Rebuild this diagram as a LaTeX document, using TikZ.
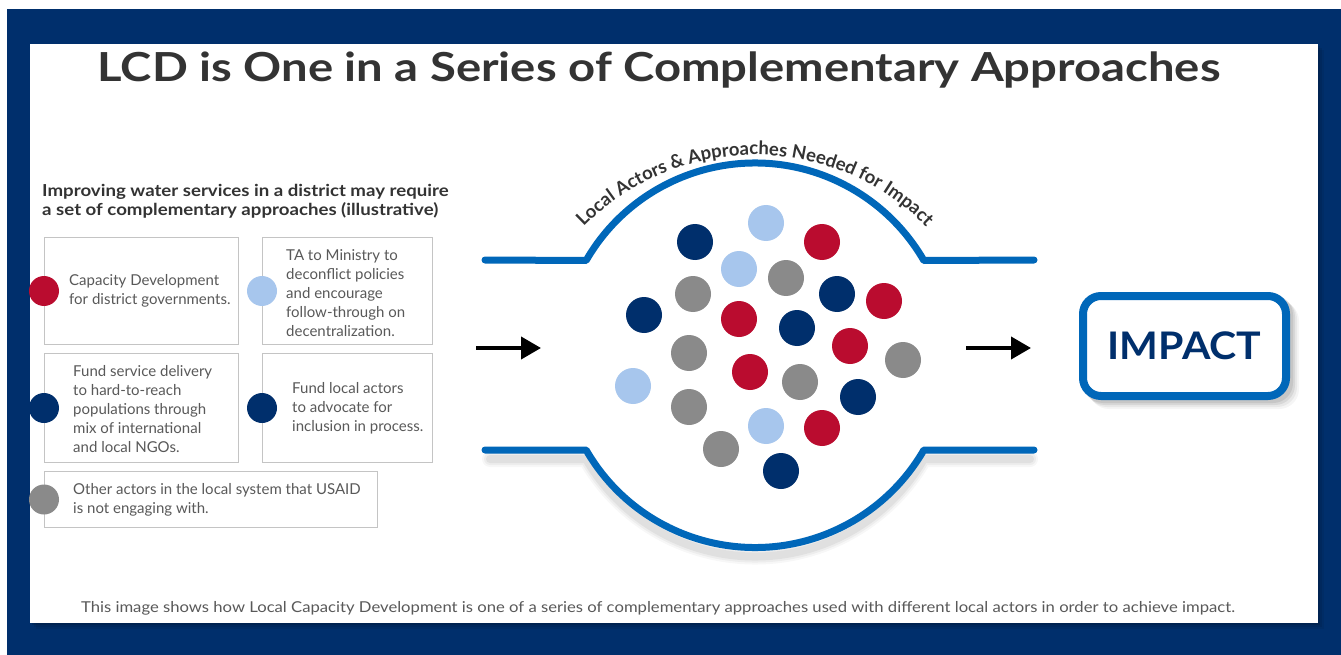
\documentclass[tikz,border=0pt]{standalone}
\usepackage{fontspec}
\setmainfont{Lato}
\usetikzlibrary{arrows.meta,decorations.text}
\definecolor{navy}{HTML}{002F6C}
\definecolor{usred}{HTML}{BA0C2F}
\definecolor{ltblue}{HTML}{A7C6ED}
\definecolor{dotgrey}{HTML}{8A8A8A}
\definecolor{lineblue}{HTML}{0067B9}
\definecolor{titlegrey}{HTML}{333333}
\definecolor{bodygrey}{HTML}{595959}
\definecolor{boxgrey}{HTML}{C4C4C4}
\begin{document}
\begin{tikzpicture}[x=1pt,y=1pt,
  dot/.style={circle,inner sep=0pt,minimum size=36pt},
  legdot/.style={circle,inner sep=0pt,minimum size=30pt},
  legbox/.style={draw=boxgrey,line width=1pt,inner sep=0pt,anchor=north west},
  bodytext/.style={font=\fontsize{15}{19}\selectfont,text=bodygrey,align=left,inner sep=0pt,anchor=west},
  subtext/.style={font=\fontsize{16.5}{18}\selectfont\bfseries,text=titlegrey,inner sep=0pt,anchor=base west},
  pipe/.style={draw=lineblue,line width=7pt,line cap=round,line join=round},
  arr/.style={line width=4pt,-{Triangle[length=20pt,width=22pt]}},
]
\useasboundingbox (0,0) rectangle (1341,-655);
\fill[white] (0,0) rectangle (1341,-655);
% navy frame
\fill[navy] (7,-9) rectangle (1341,-655);
% panel shadow
\foreach \s/\o in {6/0.06,4/0.08,2/0.12}{
  \fill[black,opacity=\o] (30+\s,-44-\s) rectangle (1318+\s,-623-\s);
}
\fill[white] (30,-44) rectangle (1318,-623);

% title
\node[font=\fontsize{40}{48}\selectfont\bfseries,text=titlegrey,anchor=base,inner sep=0pt] (title) at (659,-82) {\scalebox{1.18}[1]{LCD is One in a Series of Complementary Approaches}};

% subtitle
\node[subtext] (sub1) at (42,-197) {\scalebox{1.13}[1]{Improving water services in a district may require}};
\node[subtext] (sub2) at (42,-215) {\scalebox{1.13}[1]{a set of complementary approaches (illustrative)}};

% legend boxes
\node[legbox,minimum width=194pt,minimum height=107pt] (b1) at (44,-237) {};
\node[legbox,minimum width=170pt,minimum height=107pt] (b2) at (262,-237) {};
\node[legbox,minimum width=194pt,minimum height=109pt] (b3) at (44,-353) {};
\node[legbox,minimum width=170pt,minimum height=109pt] (b4) at (262,-353) {};
\node[legbox,minimum width=333pt,minimum height=56pt] (b5) at (44,-471) {};

\node[legdot,fill=usred] (d1) at (b1.west) {};
\node[legdot,fill=ltblue] (d2) at (b2.west) {};
\node[legdot,fill=navy] (d3) at (b3.west) {};
\node[legdot,fill=navy] (d4) at (b4.west) {};
\node[legdot,fill=dotgrey] (d5) at (b5.west) {};

\node[bodytext] (t1) at ([xshift=25pt]b1.west) {Capacity Development\\for district governments.};
\node[bodytext] (t2) at ([xshift=24pt,yshift=-2pt]b2.west) {TA to Ministry to\\deconflict policies\\and encourage\\follow-through on\\decentralization.};
\node[bodytext] (t3) at ([xshift=29pt,yshift=-1pt]b3.west) {Fund service delivery\\to hard-to-reach\\populations through\\mix of international\\and local NGOs.};
\node[bodytext] (t4) at ([xshift=30pt]b4.west) {Fund local actors\\to advocate for\\inclusion in process.};
\node[bodytext] (t5) at ([xshift=29pt]b5.west) {Other actors in the local system that USAID\\is not engaging with.};

% pipe shadow
\begin{scope}[yshift=-9pt]
\foreach \w/\o in {16/0.03,12/0.04,8/0.05}{
  \draw[black,opacity=\o,line width=\w pt,line cap=round] (490,-450) -- (586.1,-450) arc[start angle=210,end angle=330,radius=195] -- (1030,-450);
}
\end{scope}
% pipe
\draw[pipe] (485,-260) -- (586.1,-260.5) arc[start angle=150,end angle=30,radius=195] -- (1034,-260);
\draw[pipe] (485,-450) -- (586.1,-450) arc[start angle=210,end angle=330,radius=195] -- (1034,-450);

% curved label
\path[decorate,decoration={text along path,text align=center,
  text={|\fontsize{18.5}{18.5}\selectfont\bfseries\color{titlegrey}|Local Actors {\&} Approaches Needed for Impact}}]
  ([shift={(152:240)}]755,-395) arc[start angle=152,end angle=28,radius=240];

% dots
\node[dot,fill=navy]    (c1)  at (695,-242) {};
\node[dot,fill=ltblue]  (c2)  at (766,-223) {};
\node[dot,fill=usred]   (c3)  at (822,-242) {};
\node[dot,fill=ltblue]  (c4)  at (739,-269) {};
\node[dot,fill=dotgrey] (c5)  at (786,-278) {};
\node[dot,fill=dotgrey] (c6)  at (693,-294) {};
\node[dot,fill=navy]    (c7)  at (837,-294) {};
\node[dot,fill=usred]   (c8)  at (884,-301) {};
\node[dot,fill=navy]    (c9)  at (644,-315) {};
\node[dot,fill=usred]   (c10) at (739,-319) {};
\node[dot,fill=navy]    (c11) at (797,-328) {};
\node[dot,fill=usred]   (c12) at (850,-346) {};
\node[dot,fill=dotgrey] (c13) at (689,-353) {};
\node[dot,fill=dotgrey] (c14) at (903,-360) {};
\node[dot,fill=usred]   (c15) at (750,-372) {};
\node[dot,fill=dotgrey] (c16) at (800,-382) {};
\node[dot,fill=ltblue]  (c17) at (633,-386) {};
\node[dot,fill=navy]    (c18) at (858,-397) {};
\node[dot,fill=dotgrey] (c19) at (689,-407) {};
\node[dot,fill=ltblue]  (c20) at (766,-426) {};
\node[dot,fill=usred]   (c21) at (822,-428) {};
\node[dot,fill=dotgrey] (c22) at (721,-449) {};
\node[dot,fill=navy]    (c23) at (781,-471) {};

% arrows
\coordinate (la1) at (476,-348);
\coordinate (la2) at (541,-348);
\coordinate (ra1) at (966,-348);
\coordinate (ra2) at (1031,-348);
\draw[arr] (la1) -- (la2);
\draw[arr] (ra1) -- (ra2);

% impact box
\foreach \s/\o in {9/0.04,7/0.05,5/0.07,3/0.08}{
  \fill[black,opacity=\o,rounded corners=20pt] (1080+\s,-292-\s) rectangle (1290+\s,-400-\s);
}
\node[draw=lineblue,fill=white,line width=8pt,rounded corners=18pt,minimum width=203pt,minimum height=100pt,inner sep=0pt,
  font=\fontsize{38}{40}\selectfont\bfseries,text=navy] (impact) at (1184.5,-346) {\scalebox{1.08}[1]{IMPACT}};

% caption
\node[font=\fontsize{15}{18}\selectfont,text=bodygrey,anchor=base,inner sep=0pt] (caption) at (658,-612) {\scalebox{1.11}[1]{This image shows how Local Capacity Development is one of a series of complementary approaches used with different local actors in order to achieve impact.}};
\end{tikzpicture}
\end{document}
